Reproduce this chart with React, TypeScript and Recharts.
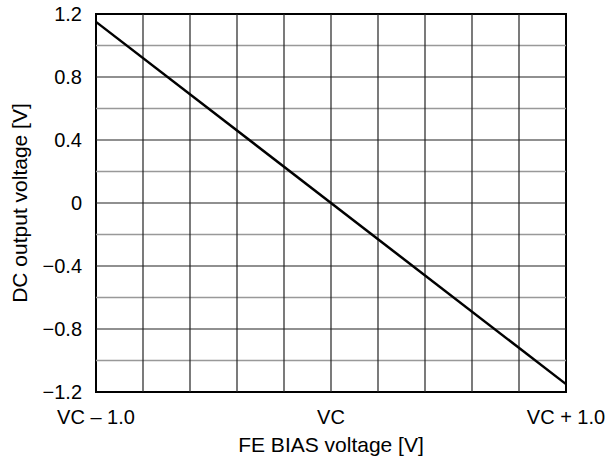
import React from "react"
import {
  LineChart,
  Line,
  XAxis,
  YAxis,
  ReferenceLine,
  ReferenceArea,
  Label,
} from "recharts"

// transfer line: FE BIAS offset from VC -> DC output
const biasPoints = [-1, 1]
const outputVolts = [1.15, -1.15]

const xTicks = [-1, 0, 1]
const xTickLabels = ["VC \u2013 1.0", "VC", "VC + 1.0"]
const yTicks = [-1.2, -0.8, -0.4, 0, 0.4, 0.8, 1.2]

// grid positions
const xGrid = [-0.8, -0.6, -0.4, -0.2, 0, 0.2, 0.4, 0.6, 0.8]
const yGridMajor = [-0.8, -0.4, 0, 0.4, 0.8]
const yGridMinor = [-1.0, -0.6, -0.2, 0.2, 0.6, 1.0]

const chartData = biasPoints.map((x, i) => ({ x, y: outputVolts[i] }))

const font = "Arial, 'Liberation Sans', Helvetica, sans-serif"

const fmtY = (v: number) => {
  if (Math.abs(v) < 1e-9) return "0"
  const s = Math.abs(v).toFixed(1)
  return v < 0 ? "\u2212" + s : s
}

const fmtX = (v: number) => {
  const i = xTicks.findIndex((t) => Math.abs(t - v) < 1e-9)
  return i >= 0 ? xTickLabels[i] : ""
}

const YTitle = (props: any) => {
  const vb = props.viewBox
  const cy = vb.y + vb.height / 2
  const cx = 19
  return (
    <text
      x={cx}
      y={cy}
      transform={`rotate(-90, ${cx}, ${cy})`}
      textAnchor="middle"
      dy="0.36em"
      fontSize={21}
      fontFamily={font}
      fill="#000"
    >
      DC output voltage [V]
    </text>
  )
}

const XTitle = (props: any) => {
  const vb = props.viewBox
  return (
    <text
      x={vb.x + vb.width / 2}
      y={452}
      textAnchor="middle"
      fontSize={21}
      fontFamily={font}
      fill="#000"
    >
      FE BIAS voltage [V]
    </text>
  )
}

export default function App() {
  return (
    <div style={{ position: "absolute", left: 0, top: 0, background: "#fff" }}>
      <LineChart
        width={610}
        height={462}
        data={chartData}
        margin={{ top: 14, right: 44, left: 0, bottom: 0 }}
      >
        <XAxis
          dataKey="x"
          type="number"
          domain={[-1, 1]}
          ticks={xTicks}
          tickFormatter={fmtX}
          height={70}
          tickSize={0}
          tickMargin={18}
          axisLine={false}
          tickLine={false}
          interval={0}
          tick={{ fontSize: 20, fill: "#000", fontFamily: font }}
        >
          <Label content={<XTitle />} />
        </XAxis>
        <YAxis
          type="number"
          domain={[-1.2, 1.2]}
          ticks={yTicks}
          tickFormatter={fmtY}
          width={96}
          tickSize={0}
          tickMargin={14}
          axisLine={false}
          tickLine={false}
          interval={0}
          tick={{ fontSize: 20, fill: "#000", fontFamily: font }}
        >
          <Label content={<YTitle />} />
        </YAxis>

        {yGridMinor.map((v) => (
          <ReferenceLine key={"mn" + v} y={v} stroke="#999" strokeWidth={1.5} />
        ))}
        {yGridMajor.map((v) => (
          <ReferenceLine key={"mj" + v} y={v} stroke="#222" strokeWidth={1.2} />
        ))}
        {xGrid.map((v) => (
          <ReferenceLine key={"vx" + v} x={v} stroke="#222" strokeWidth={1.2} />
        ))}
        <ReferenceArea
          x1={-1}
          x2={1}
          y1={-1.2}
          y2={1.2}
          fill="none"
          fillOpacity={0}
          stroke="#000"
          strokeWidth={2}
        />

        <Line
          dataKey="y"
          stroke="#000"
          strokeWidth={2.5}
          dot={false}
          isAnimationActive={false}
        />
      </LineChart>
    </div>
  )
}
